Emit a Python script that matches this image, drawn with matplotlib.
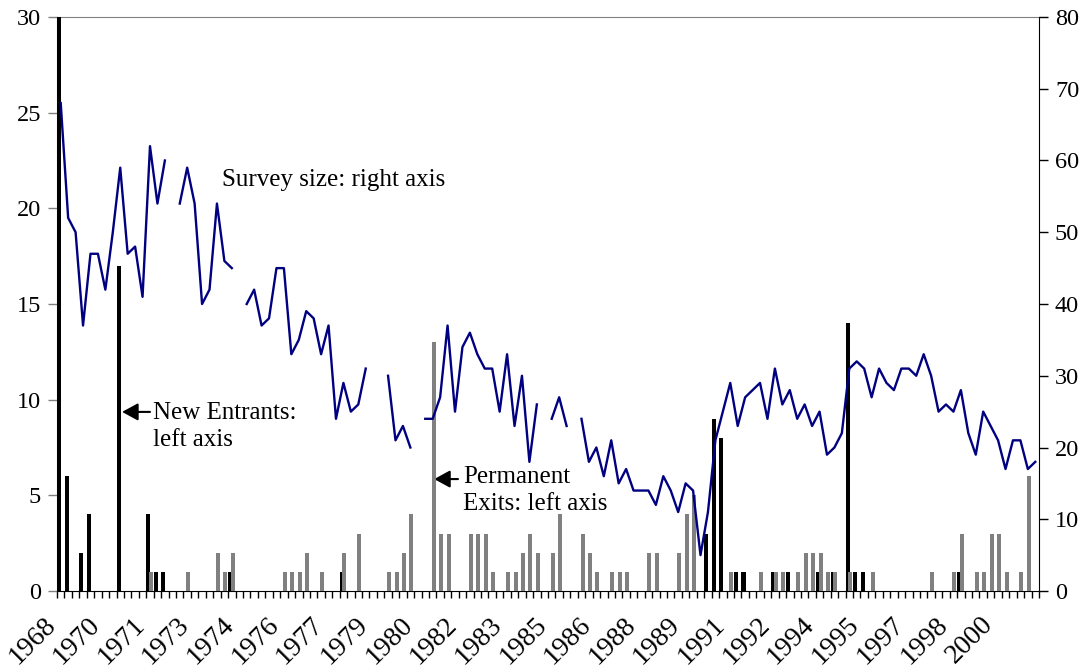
import numpy as np
import matplotlib
matplotlib.use("Agg")
import matplotlib.pyplot as plt
from matplotlib.transforms import ScaledTranslation

nan = np.nan

# quarterly survey rounds, 1968Q4 .. 2001Q3
new_entrants = [30, 6, 0, 2, 4, 0, 0, 0, 17, 0, 0, 0,
                4, 1, 1, 0, 0, 0, 0, 0, 0, 0, 0, 1,
                0, 0, 0, 0, 0, 0, 0, 0, 0, 0, 0, 0,
                0, 0, 1, 0, 0, 0, 0, 0, 0, 0, 0, 0,
                0, 0, 0, 0, 0, 0, 0, 0, 0, 0, 0, 0,
                0, 0, 0, 0, 0, 0, 0, 0, 0, 0, 0, 0,
                0, 0, 0, 0, 0, 0, 0, 0, 0, 0, 0, 0,
                0, 0, 0, 3, 9, 8, 0, 1, 1, 0, 0, 0,
                1, 0, 1, 0, 0, 0, 1, 0, 1, 0, 14, 1,
                1, 0, 0, 0, 0, 0, 0, 0, 0, 0, 0, 0,
                0, 1, 0, 0, 0, 0, 0, 0, 0, 0, 0, 0]

perm_exits = [0, 0, 0, 0, 0, 0, 0, 0, 0, 0, 0, 0,
              1, 0, 0, 0, 0, 1, 0, 0, 0, 2, 1, 2,
              0, 0, 0, 0, 0, 0, 1, 1, 1, 2, 0, 1,
              0, 0, 2, 0, 3, 0, 0, 0, 1, 1, 2, 4,
              0, 0, 13, 3, 3, 0, 0, 3, 3, 3, 1, 0,
              1, 1, 2, 3, 2, 0, 2, 4, 0, 0, 3, 2,
              1, 0, 1, 1, 1, 0, 0, 2, 2, 0, 0, 2,
              4, 5, 0, 0, 0, 0, 1, 0, 0, 0, 1, 0,
              1, 1, 0, 1, 2, 2, 2, 1, 1, 0, 1, 0,
              0, 1, 0, 0, 0, 0, 0, 0, 0, 1, 0, 0,
              1, 3, 0, 1, 1, 3, 3, 1, 0, 1, 6, 0]

survey_size = [68, 52, 50, 37, 47, 47, 42, 50, 59, 47, 48, 41,
               62, 54, 60, nan, 54, 59, 54, 40, 42, 54, 46, 45,
               nan, 40, 42, 37, 38, 45, 45, 33, 35, 39, 38, 33,
               37, 24, 29, 25, 26, 31, nan, nan, 30, 21, 23, 20,
               nan, 24, 24, 27, 37, 25, 34, 36, 33, 31, 31, 25,
               33, 23, 30, 18, 26, nan, 24, 27, 23, nan, 24, 18,
               20, 16, 21, 15, 17, 14, 14, 14, 12, 16, 14, 11,
               15, 14, 5, 11, 21, 25, 29, 23, 27, 28, 29, 24,
               31, 26, 28, 24, 26, 23, 25, 19, 20, 22, 31, 32,
               31, 27, 31, 29, 28, 31, 31, 30, 33, 30, 25, 26,
               25, 28, 22, 19, 25, 23, 21, 17, 21, 21, 17, 18]

year_labels = ["1968", "1970", "1971", "1973", "1974", "1976", "1977", "1979",
               "1980", "1982", "1983", "1985", "1986", "1988", "1989", "1991",
               "1992", "1994", "1995", "1997", "1998", "2000"]

plt.rcParams['font.family'] = ['Liberation Serif', 'DejaVu Serif']
plt.rcParams['font.size'] = 17.5

n = len(survey_size)
x = np.arange(n)

fig = plt.figure(figsize=(10.91, 6.72), dpi=100)
ax = fig.add_axes([57 / 1091, 1 - 591 / 672, 982 / 1091, 574 / 672])
ax2 = ax.twinx()

ax.bar(x + 0.28, new_entrants, width=0.54, color='black', zorder=3)
ax.bar(x + 0.64, perm_exits, width=0.54, color='#808080', zorder=3.1)
ax2.plot(x + 0.5, survey_size, color='#000080', lw=1.7, zorder=4)

ax.set_xlim(0, n)
ax.set_ylim(0, 30)
ax.set_yticks(range(0, 31, 5))
ax2.set_ylim(0, 80)
ax2.set_yticks(range(0, 81, 10))

ax.set_xticks(np.arange(0, n, 6) + 0.5)
ax.set_xticklabels(year_labels, rotation=45, ha='right', va='center',
                   rotation_mode='anchor', fontsize=20)
ax.set_xticks(np.arange(n + 1), minor=True)
ax.tick_params(axis='x', which='major', length=0, pad=21.5)
ax.tick_params(axis='x', which='minor', length=5, width=1, color='black')
for lab in ax.get_xticklabels():
    lab.set_transform(lab.get_transform() + ScaledTranslation(-0.09, 0, fig.dpi_scale_trans))

ax.tick_params(axis='y', length=6.5, width=1, color='#808080', pad=5)
ax2.tick_params(axis='y', length=6.5, width=1, color='black', pad=5)

ax.spines['right'].set_visible(False)
ax.spines['top'].set_color('#808080')
ax.spines['left'].set_color('#808080')
ax.spines['bottom'].set_color('black')
for s in ['top', 'left', 'bottom']:
    ax2.spines[s].set_visible(False)
ax2.spines['right'].set_color('black')

# annotations
ax.text(22.2, 21.5, "Survey size: right axis", fontsize=18, ha='left', va='center')
ax.annotate("", xy=(8.75, 9.36), xytext=(12.5, 9.36),
            arrowprops=dict(arrowstyle='-|>,head_length=0.55,head_width=0.3',
                            color='black', lw=1.5, shrinkA=0, shrinkB=0))
ax.text(12.9, 8.6, "New Entrants:\nleft axis", fontsize=18, ha='left', va='center',
        linespacing=1.25)
ax.annotate("", xy=(50.7, 5.85), xytext=(53.9, 5.85),
            arrowprops=dict(arrowstyle='-|>,head_length=0.55,head_width=0.3',
                            color='black', lw=1.5, shrinkA=0, shrinkB=0))
ax.text(54.6, 5.25, "Permanent\nExits: left axis", fontsize=18, ha='left', va='center',
        linespacing=1.25)

fig.savefig("out.png", dpi=100)
